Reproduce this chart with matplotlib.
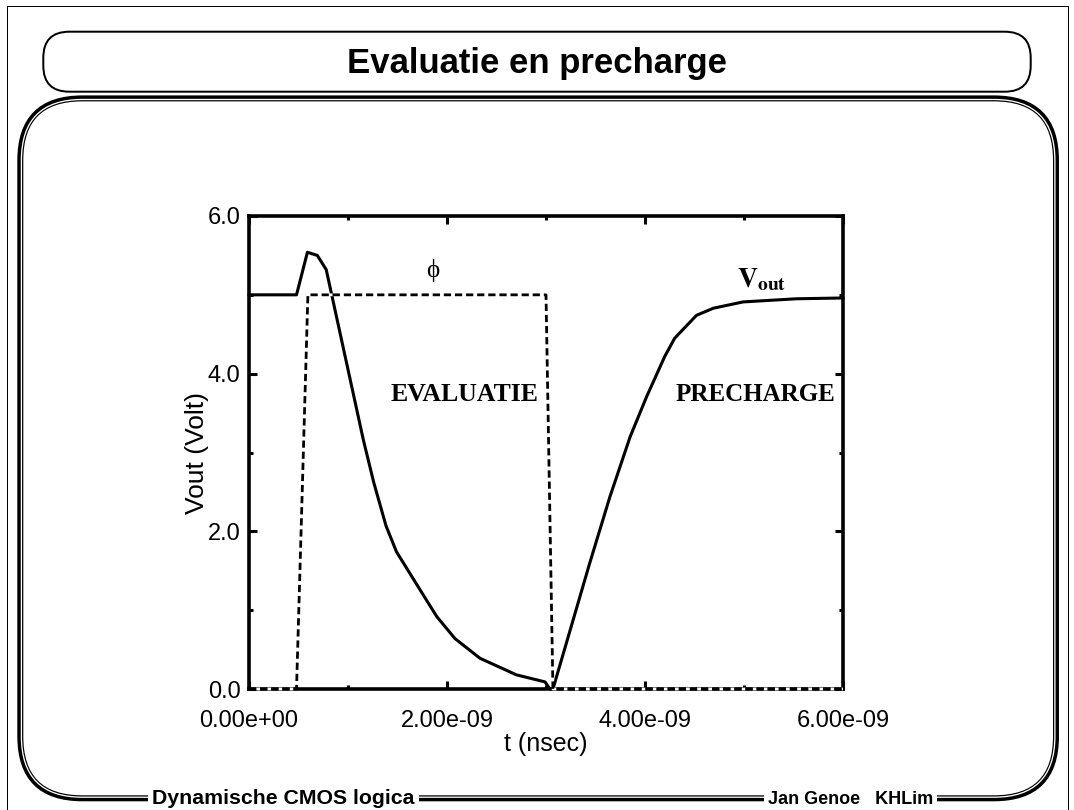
import matplotlib
matplotlib.use('Agg')
import matplotlib.pyplot as plt
from matplotlib.patches import FancyBboxPatch, Rectangle

plt.rcParams['font.family'] = ['Liberation Sans', 'DejaVu Sans']
plt.rcParams['mathtext.fontset'] = 'stix'

# Vout transient (time in ns, voltage in V)
t_vout = [0.0, 0.48, 0.59, 0.69, 0.78, 1.155, 1.26, 1.384, 1.49, 1.727, 1.896,
          2.08, 2.333, 2.70, 2.99, 3.04, 3.07, 3.175, 3.44, 3.646, 3.85, 4.017,
          4.20, 4.30, 4.52, 4.69, 4.99, 5.53, 6.0]
v_vout = [5.0, 5.0, 5.54, 5.50, 5.32, 3.16, 2.62, 2.07, 1.74, 1.26, 0.92,
          0.64, 0.39, 0.18, 0.09, 0.0, 0.0, 0.45, 1.59, 2.44, 3.20, 3.71,
          4.22, 4.45, 4.74, 4.83, 4.91, 4.95, 4.96]

# clock phi
t_phi = [0.0, 0.48, 0.595, 3.0, 3.07, 6.0]
v_phi = [0.0, 0.0, 5.0, 5.0, 0.0, 0.0]

x_major = [0.0, 2e-9, 4e-9, 6e-9]
x_minor = [1e-9, 3e-9, 5e-9]
y_major = [0.0, 2.0, 4.0, 6.0]
y_minor = [1.0, 3.0, 5.0]

fig = plt.figure(figsize=(10.74, 8.1), dpi=100)

# slide frame, drawn in pixel coordinates
bg = fig.add_axes([0, 0, 1, 1])
bg.set_xlim(0, 1074)
bg.set_ylim(810, 0)
bg.axis('off')

px = 0.72  # points per pixel
bg.add_patch(Rectangle((6.7, 5.7), 1061.5, 820, fill=False, ec='black', lw=1.0 * px))
bg.add_patch(FancyBboxPatch((43.3, 31.7), 987.4, 60.0,
                            boxstyle='round,pad=0,rounding_size=26',
                            fill=False, ec='black', lw=2.0 * px))
bg.add_patch(FancyBboxPatch((20.3, 98.4), 1035.7, 699.9,
                            boxstyle='round,pad=0,rounding_size=62',
                            fill=False, ec='black', lw=6.0 * px))
bg.add_patch(FancyBboxPatch((21.4, 99.5), 1033.5, 697.7,
                            boxstyle='round,pad=0,rounding_size=61',
                            fill=False, ec='white', lw=1.3 * px))

bg.text(537, 64, 'Evaluatie en precharge', ha='center', va='center',
        fontsize=25, fontweight='bold')
bg.text(152, 798.5, 'Dynamische CMOS logica', ha='left', va='center',
        fontsize=15.3, fontweight='bold',
        bbox=dict(fc='white', ec='none', pad=3))
bg.text(768, 800, 'Jan Genoe   KHLim', ha='left', va='center',
        fontsize=13, fontweight='bold',
        bbox=dict(fc='white', ec='none', pad=3))

# the waveform plot
ax = fig.add_axes([249 / 1074, 121 / 810, 594 / 1074, 473 / 810])
t_v = [t * 1e-9 for t in t_vout]
t_p = [t * 1e-9 for t in t_phi]
ax.plot(t_v, v_vout, color='black', lw=2.2, zorder=3, clip_on=False)
ax.plot(t_p, v_phi, color='black', lw=2.0, linestyle=(0, (2.6, 1.4)),
        gapcolor='white', zorder=4, clip_on=False)

ax.set_xlim(0, 6e-9)
ax.set_ylim(0, 6)
ax.set_xticks(x_major)
ax.set_xticklabels([f'{v:.2e}' for v in x_major])
ax.set_xticks(x_minor, minor=True)
ax.set_yticks(y_major)
ax.set_yticklabels([f'{v:.1f}' for v in y_major])
ax.set_yticks(y_minor, minor=True)
ax.tick_params(which='both', direction='in', top=True, right=True,
               width=2.2, labelsize=17)
ax.tick_params(which='major', length=6)
ax.tick_params(which='minor', length=3)
ax.tick_params(axis='x', pad=15)
ax.tick_params(axis='y', pad=6)
for s in ax.spines.values():
    s.set_linewidth(2.6)

ax.set_xlabel('t (nsec)', fontsize=18, labelpad=0)
ax.set_ylabel('Vout (Volt)', fontsize=19, labelpad=-1)

ax.text(1.86e-9, 5.31, '\u03d5', ha='center', va='center', fontsize=18,
        family=['Liberation Serif', 'DejaVu Serif'])
ax.text(5.18e-9, 5.19, r'$\mathbf{V}_{\mathbf{out}}$', ha='center', va='center',
        fontsize=20)
ax.text(2.18e-9, 3.73, 'EVALUATIE', ha='center', va='center', fontsize=18.5,
        fontweight='bold', family=['Liberation Serif', 'DejaVu Serif'])
ax.text(5.12e-9, 3.73, 'PRECHARGE', ha='center', va='center', fontsize=18,
        fontweight='bold', family=['Liberation Serif', 'DejaVu Serif'])

fig.savefig('out.png', dpi=100)
